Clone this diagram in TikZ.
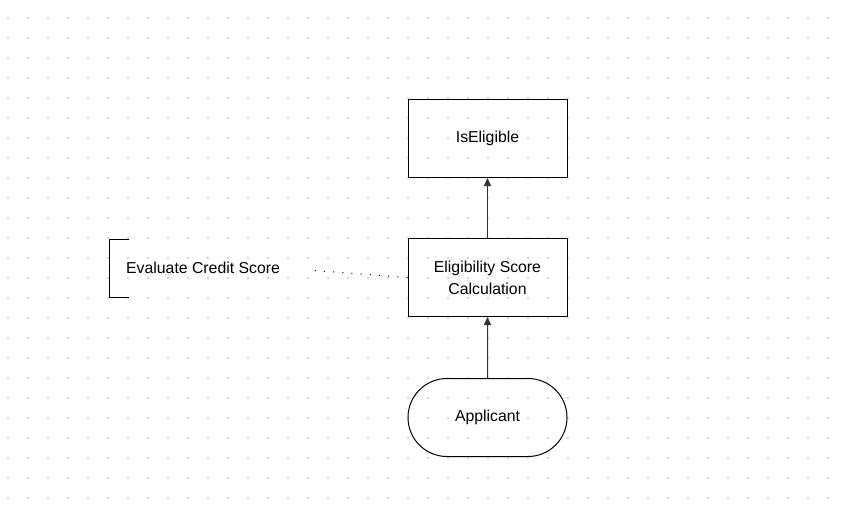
\documentclass[tikz,border=0pt]{standalone}
\usepackage{fontspec}
\setmainfont{Liberation Sans}
\usetikzlibrary{arrows.meta,shapes.misc}
\definecolor{griddot}{HTML}{D6D6D6}
\definecolor{edgegray}{HTML}{333333}
\begin{document}
\begin{tikzpicture}[x=1pt,y=-1pt,
  font=\fontsize{15.8}{22}\selectfont,
  boxnode/.style={draw=black,line width=1pt,minimum width=159pt,minimum height=78pt,inner sep=0pt,align=center},
  stadium/.style={draw=black,line width=1pt,rounded rectangle,minimum width=159pt,minimum height=78pt,inner sep=0pt},
  flowarrow/.style={draw=edgegray,line width=1pt,-{Triangle[length=8pt,width=7pt]}},
  noteline/.style={draw=black,line width=1pt,dash pattern=on 1pt off 8.2pt}]
\useasboundingbox[fill=white] (0,0) rectangle (846,514);
\foreach \i in {0,...,41}{\foreach \j in {0,...,24}{
  \fill[griddot] (7+20*\i,17+20*\j) rectangle ++(2,2);}}
\node[boxnode] (elig) at (487.5,138.5) {IsEligible};
\node[boxnode] (calc) at (487.5,277.5) {Eligibility Score\\Calculation};
\node[stadium] (appl) at (487.5,417.5) {Applicant};
\draw[flowarrow] (appl) -- (calc);
\draw[flowarrow] (calc) -- (elig);
\coordinate (brtop) at (129,239);
\coordinate (brbot) at (129,297);
\draw[line width=1pt] (brtop) -- (109,239) -- (109,297) -- (brbot);
\node[anchor=west,inner sep=0pt] (note) at (126,268) {Evaluate Credit Score};
\coordinate (noteend) at (314,270.5);
\draw[noteline] (calc.west) -- (noteend);
\end{tikzpicture}
\end{document}
